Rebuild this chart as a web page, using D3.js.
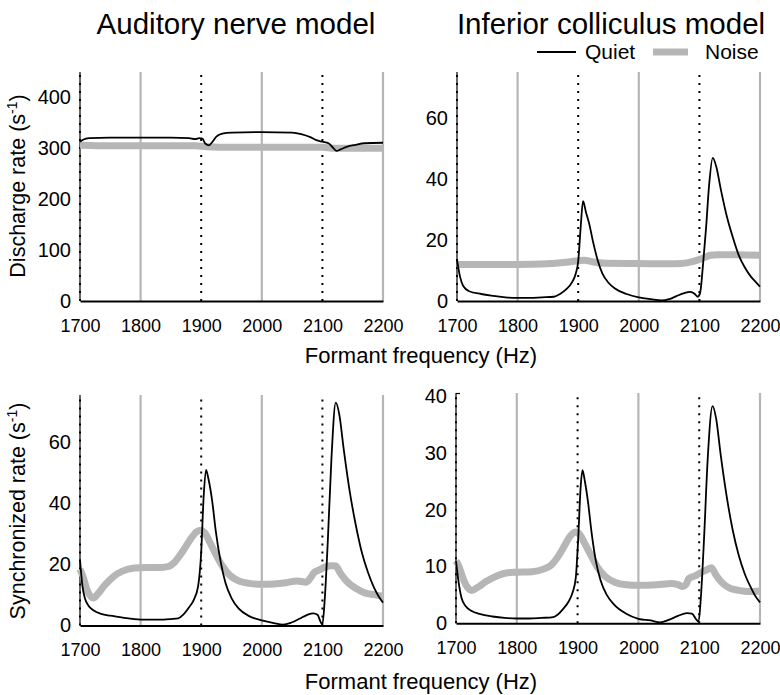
<!DOCTYPE html>
<html><head><meta charset="utf-8">
<script src="https://cdn.jsdelivr.net/npm/d3@7"></script>
<style>
html,body{margin:0;padding:0;background:#fff;}
svg{display:block;}
text{font-family:"Liberation Sans",Arial,sans-serif;fill:#000;}
</style></head>
<body>
<svg id="chart" width="780" height="695"></svg>
<script>
// ---- data ----
const freqTicks = [1700, 1800, 1900, 2000, 2100, 2200];
const solidGrid = [1800, 2000, 2200];
const dottedGrid = [1700, 1900, 2100];
const titles = ["Auditory nerve model", "Inferior colliculus model"];
const yLabels = ["Discharge rate", "Synchronized rate"];
const xLabel = "Formant frequency (Hz)";
const legendLabels = ["Quiet", "Noise"];

const anRateTicks = [0, 100, 200, 300, 400];
const icRateTicks = [0, 20, 40, 60];
const anSyncTicks = [0, 20, 40, 60];
const icSyncTicks = [0, 10, 20, 30, 40];

// [formant frequency (Hz), rate (spikes/s)]
const anRateQuiet = [[1700,313],[1705,317],[1715,320],[1750,321],[1800,321],[1850,321],[1880,320],[1890,318],[1897,320],[1902,319],[1907,309],[1913,306],[1918,312],[1925,323],[1935,329],[1950,331],[2000,332],[2050,331],[2065,328],[2080,322],[2090,316],[2100,313],[2110,310],[2117,302],[2123,295],[2130,298],[2140,303],[2155,307],[2170,310],[2200,311]];
const anRateNoise = [[1700,306],[1750,305],[1800,305],[1850,305],[1890,305],[1910,303],[1950,302],[2000,302],[2050,302],[2100,302],[2120,300],[2150,300],[2200,300]];

const icRateQuiet = [[1700,13.5],[1705,8],[1710,5],[1720,3.2],[1740,2.3],[1760,1.7],[1780,1.2],[1800,1.0],[1820,1.0],[1840,1.2],[1860,1.4],[1870,2.3],[1880,3.8],[1890,6.2],[1896,9],[1900,13],[1904,24],[1908,32.8],[1913,29],[1918,25.5],[1925,19],[1932,13.5],[1940,9],[1950,6],[1960,4.2],[1980,2.3],[2000,1.2],[2020,0.6],[2038,0.2],[2050,0.6],[2062,1.6],[2075,2.6],[2085,3],[2092,2.4],[2097,1.4],[2101,2.5],[2106,12],[2111,24],[2116,38],[2122,47],[2128,44],[2135,37],[2145,28],[2155,21],[2165,15],[2175,11],[2185,8],[2195,5.8],[2200,4.7]];
const icRateNoise = [[1700,12],[1750,12],[1800,12],[1850,12.2],[1880,12.7],[1900,13.2],[1910,13.4],[1925,12.8],[1945,12.4],[2000,12.3],[2050,12.2],[2070,12.3],[2090,13],[2105,14],[2118,15],[2130,15.2],[2160,15.2],[2200,15]];

const anSyncQuiet = [[1700,21.5],[1704,13],[1708,9],[1714,6.5],[1722,5],[1735,3.8],[1750,3.2],[1770,2.6],[1790,2.1],[1810,1.9],[1830,1.9],[1850,2.1],[1862,2.3],[1870,3.5],[1880,6],[1888,8.5],[1895,13],[1900,24],[1904,42],[1908,51],[1912,48],[1918,41],[1924,31],[1932,21],[1940,14],[1950,9],[1962,5.5],[1980,3],[2000,1.7],[2020,0.8],[2035,0.3],[2048,0.9],[2062,2.2],[2075,3.5],[2085,4],[2092,3.5],[2097,1.2],[2100,0.4],[2104,9],[2109,28],[2115,55],[2122,73],[2128,69],[2135,58],[2145,44],[2155,33],[2165,24],[2175,17.5],[2185,12.5],[2193,9.5],[2200,7.5]];
const anSyncNoise = [[1700,18.5],[1705,16],[1712,11.5],[1722,9],[1730,10.5],[1740,13],[1755,16],[1770,17.8],[1790,18.8],[1810,19],[1830,19],[1845,19.3],[1855,20.5],[1865,23],[1875,26],[1885,29],[1893,30.8],[1900,31.2],[1907,30],[1915,27],[1925,23],[1935,19.5],[1947,16.5],[1960,14.8],[1980,13.8],[2000,13.5],[2020,13.6],[2040,14],[2058,14.6],[2073,14.2],[2080,15.5],[2086,17.3],[2095,18.2],[2105,19.2],[2115,19.6],[2122,19.5],[2130,17],[2140,14.5],[2155,12.2],[2170,10.7],[2185,10.1],[2200,9.6]];

const icSyncQuiet = [[1700,11],[1704,7.5],[1709,4.5],[1716,3],[1725,2.2],[1740,1.6],[1760,1.2],[1780,0.95],[1800,0.85],[1820,0.85],[1840,0.95],[1860,1.1],[1868,1.6],[1876,2.5],[1885,3.8],[1892,5.5],[1897,8],[1901,15],[1905,24],[1908,27],[1912,25],[1917,21.5],[1923,16],[1930,11],[1938,7.5],[1948,5],[1960,3.3],[1980,1.7],[2000,0.8],[2020,0.5],[2036,0.15],[2050,0.6],[2065,1.3],[2080,1.8],[2088,1.7],[2095,0.7],[2099,0.3],[2103,5],[2108,15],[2114,29],[2122,38.3],[2128,36],[2135,30],[2145,22.5],[2155,16.5],[2165,12],[2175,8.7],[2185,6.3],[2193,4.7],[2200,3.7]];
const icSyncNoise = [[1700,11],[1705,10],[1712,7.8],[1720,6.2],[1726,5.8],[1735,6.3],[1750,7.4],[1768,8.4],[1785,8.9],[1800,9],[1825,9.1],[1845,9.6],[1857,10.3],[1868,11.8],[1878,13.6],[1888,15.4],[1897,16.1],[1904,15.6],[1912,14],[1922,12],[1932,10],[1945,8.3],[1962,7.2],[1980,6.8],[2000,6.7],[2030,6.8],[2055,7],[2065,6.8],[2073,6.5],[2078,6.8],[2083,7.9],[2092,8.3],[2102,8.9],[2112,9.4],[2120,9.8],[2127,8.6],[2137,7.2],[2150,6.2],[2165,5.8],[2180,5.6],[2200,5.7]];

// ---- layout ----
const panels = [
  {x0:80,  x1:383, y0:301,   y1:72,  ymax:450,  ticks:anRateTicks, quiet:anRateQuiet, noise:anRateNoise},
  {x0:457, x1:760, y0:301,   y1:72,  ymax:75.2, ticks:icRateTicks, quiet:icRateQuiet, noise:icRateNoise},
  {x0:80,  x1:383, y0:625.5, y1:395, ymax:75.5, ticks:anSyncTicks, quiet:anSyncQuiet, noise:anSyncNoise},
  {x0:456, x1:760, y0:623.3, y1:393, ymax:40.6, ticks:icSyncTicks, quiet:icSyncQuiet, noise:icSyncNoise, topTick:true}
];

const svg = d3.select("#chart");
const GRAY = "#b6b6b6";

panels.forEach(p => {
  const x = d3.scaleLinear().domain([1700, 2200]).range([p.x0, p.x1]);
  const y = d3.scaleLinear().domain([0, p.ymax]).range([p.y0, p.y1]);
  const g = svg.append("g");

  g.selectAll(".grid").data(solidGrid).enter().append("line")
    .attr("x1", d => x(d)).attr("x2", d => x(d))
    .attr("y1", p.y0).attr("y2", p.y1)
    .attr("stroke", GRAY).attr("stroke-width", 2.2);

  // left axis line
  g.append("line").attr("x1", p.x0).attr("x2", p.x0).attr("y1", p.y0).attr("y2", p.y1)
    .attr("stroke", "#000").attr("stroke-width", 1.2);
  if (p.topTick) {
    g.append("line").attr("x1", p.x0).attr("x2", p.x0 + 4).attr("y1", p.y1 + 0.5).attr("y2", p.y1 + 0.5)
      .attr("stroke", "#000").attr("stroke-width", 1.2);
  }

  g.selectAll(".dot").data(dottedGrid).enter().append("line")
    .attr("x1", d => x(d)).attr("x2", d => x(d))
    .attr("y1", p.y0).attr("y2", p.y1)
    .attr("stroke", "#000").attr("stroke-width", 2).attr("stroke-dasharray", "2,6");

  // bottom axis
  const xAxis = d3.axisBottom(x).tickValues(freqTicks).tickSize(0).tickPadding(18).tickFormat(d3.format("d"));
  const xa = g.append("g").attr("transform", `translate(0,${p.y0})`).call(xAxis);
  xa.select(".domain").attr("stroke", "#000").attr("stroke-width", 2);
  xa.selectAll("text").attr("font-size", 18).attr("font-family", "Liberation Sans, Arial, sans-serif").attr("fill", "#000");

  const yAxis = d3.axisLeft(y).tickValues(p.ticks).tickSize(0).tickPadding(9);
  const ya = g.append("g").attr("transform", `translate(${p.x0},0)`).call(yAxis);
  ya.select(".domain").remove();
  ya.selectAll("text").attr("font-size", 20).attr("font-family", "Liberation Sans, Arial, sans-serif").attr("fill", "#000");

  const line = d3.line().x(d => x(d[0])).y(d => y(d[1])).curve(d3.curveMonotoneX);
  g.append("path").datum(p.noise).attr("d", line).attr("fill", "none")
    .attr("stroke", GRAY).attr("stroke-width", 7).attr("stroke-linejoin", "round").attr("stroke-linecap", "butt");
  g.append("path").datum(p.quiet).attr("d", line).attr("fill", "none")
    .attr("stroke", "#000").attr("stroke-width", 1.8).attr("stroke-linejoin", "round");
});

// titles
[[236, titles[0]], [611, titles[1]]].forEach(([cx, t]) => {
  svg.append("text").attr("x", cx).attr("y", 34).attr("text-anchor", "middle")
    .attr("font-size", 29.5).text(t);
});

// x labels
[363, 689].forEach(yy => {
  svg.append("text").attr("x", 421).attr("y", yy).attr("text-anchor", "middle")
    .attr("font-size", 22).text(xLabel);
});

// y labels
[[186, yLabels[0]], [511, yLabels[1]]].forEach(([cy, t]) => {
  const tx = svg.append("text").attr("transform", `translate(25,${cy}) rotate(-90)`)
    .attr("text-anchor", "middle").attr("font-size", 21.5);
  tx.append("tspan").text(t + " (s");
  tx.append("tspan").attr("font-size", 14).attr("dy", -8).text("-1");
  tx.append("tspan").attr("dy", 8).text(")");
});

// legend
const lg = svg.append("g");
lg.append("line").attr("x1", 537).attr("x2", 576).attr("y1", 52).attr("y2", 52)
  .attr("stroke", "#000").attr("stroke-width", 1.8);
lg.append("text").attr("x", 585).attr("y", 59).attr("font-size", 21).text(legendLabels[0]);
lg.append("line").attr("x1", 653).attr("x2", 688).attr("y1", 52).attr("y2", 52)
  .attr("stroke", GRAY).attr("stroke-width", 7);
lg.append("text").attr("x", 705).attr("y", 59).attr("font-size", 21).text(legendLabels[1]);
</script>
</body></html>
